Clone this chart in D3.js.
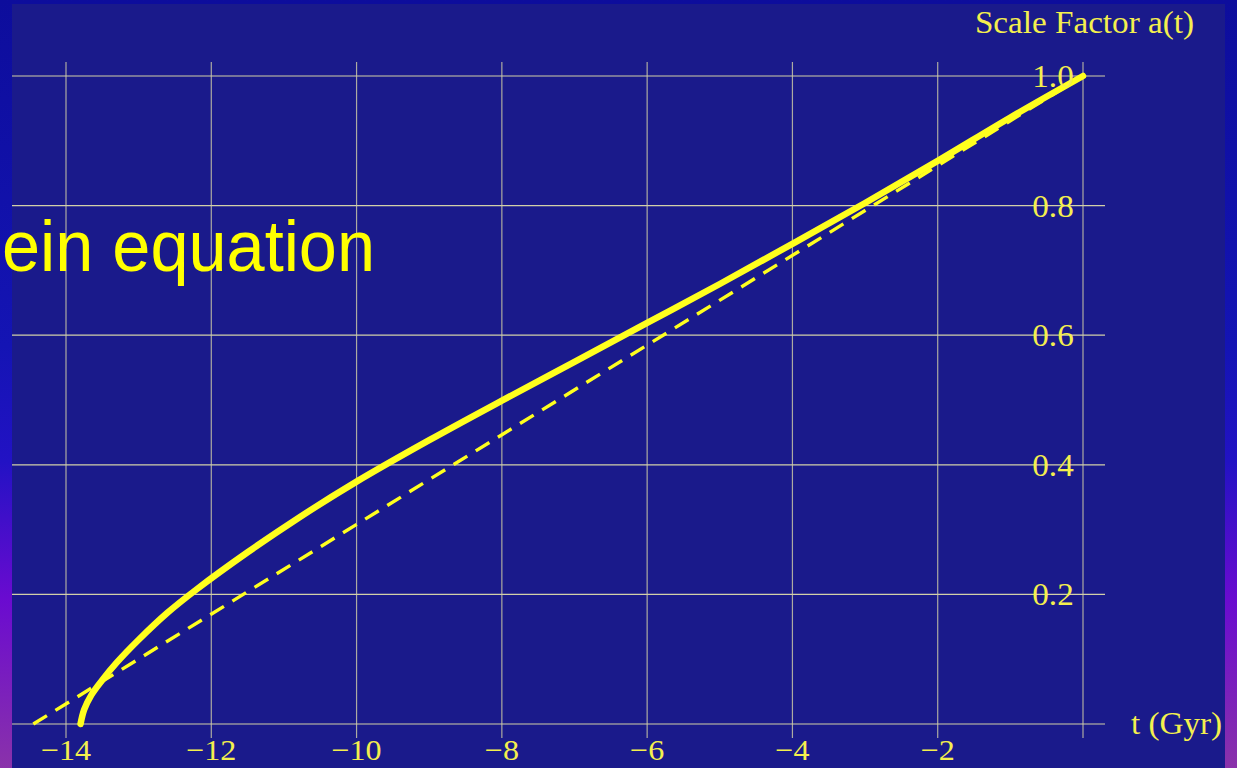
<!DOCTYPE html>
<html>
<head>
<meta charset="utf-8">
<script src="https://cdn.jsdelivr.net/npm/d3@7"></script>
<style>
  html, body { margin: 0; padding: 0; background: #0d0d9c; overflow: hidden; }
  svg { display: block; }
</style>
</head>
<body>
<svg id="chart" width="1237" height="768"></svg>
<script>
// time in Gyr (today = 0), scale factor a(t)
const timeGyr   = [-13.80, -13.75, -13.65, -13.50, -13.30, -13.00, -12.60, -12.20, -11.50, -10.80, -10.00, -9.00, -8.00, -7.00, -6.00, -5.00, -4.00, -3.00, -2.00, -1.00, 0.00];
const scaleFac  = [0.000, 0.022, 0.045, 0.068, 0.095, 0.130, 0.172, 0.208, 0.265, 0.318, 0.374, 0.438, 0.499, 0.559, 0.619, 0.679, 0.741, 0.804, 0.869, 0.936, 1.000];
// straight-line (constant expansion) comparison
const linearT   = [-14.45, 0.00];
const linearA   = [0.000, 1.000];
const xTicks    = [-14, -12, -10, -8, -6, -4, -2, 0];
const xLabels   = ['\u221214', '\u221212', '\u221210', '\u22128', '\u22126', '\u22124', '\u22122', ''];
const yTicks    = [0, 0.2, 0.4, 0.6, 0.8, 1.0];
const yLabels   = ['', '0.2', '0.4', '0.6', '0.8', '1.0'];
const yTitle    = 'Scale Factor a(t)';
const xTitle    = 't (Gyr)';
const sideText  = 'ein equation';

const draw = () => {
  let
    svg = d3.select('#chart'),
    W = 1237,
    H = 768,
    xScale = d3.scaleLinear().domain([-14, 0]).range([66, 1083]),
    yScale = d3.scaleLinear().domain([0, 1]).range([724, 76]),
    ink = '#f4ef4e',
    grid = '#d2d0a8',
    serif = '"Liberation Serif", "Times New Roman", serif',
    fontPx = 31,
    stretch = 1.07,
    line = d3.line().curve(d3.curveCatmullRom.alpha(0.5)).x(d => xScale(d[0])).y(d => yScale(d[1])),
    defs = svg.append('defs'),
    bg = defs.append('linearGradient').attr('id', 'slide-bg').attr('x1', 0).attr('y1', 0).attr('x2', 0).attr('y2', 1)
    ;

  // slide background behind the pasted plot
  [['0', '#0d0d9c'], ['0.45', '#1414b4'], ['0.6', '#2212c4'], ['0.78', '#6a0bd0'], ['1', '#8a32aa']]
    .forEach(s => bg.append('stop').attr('offset', s[0]).attr('stop-color', s[1]));
  svg.append('rect').attr('width', W).attr('height', H).attr('fill', 'url(#slide-bg)');
  svg.append('rect')
    .attr('x', 12).attr('y', 4)
    .attr('width', 1213).attr('height', H - 4)
    .attr('fill', '#1a1a8b')
  ;

  // grid
  svg.append('g').attr('class', 'grid-x')
    .selectAll('line').data(xTicks).join('line')
    .attr('x1', d => xScale(d)).attr('x2', d => xScale(d))
    .attr('y1', 62).attr('y2', 738)
    .attr('stroke', grid).attr('stroke-width', 1.2).attr('stroke-opacity', 0.8)
  ;
  svg.append('g').attr('class', 'grid-y')
    .selectAll('line').data(yTicks).join('line')
    .attr('x1', 12).attr('x2', 1105)
    .attr('y1', d => yScale(d)).attr('y2', d => yScale(d))
    .attr('stroke', grid).attr('stroke-width', 1.2)
  ;

  // curves
  let
    solid = timeGyr.map((t, i) => [t, scaleFac[i]]),
    dashed = linearT.map((t, i) => [t, linearA[i]])
    ;
  svg.append('path')
    .datum(dashed)
    .attr('d', d3.line().x(d => xScale(d[0])).y(d => yScale(d[1])))
    .attr('fill', 'none')
    .attr('stroke', '#ffff1e')
    .attr('stroke-width', 3.4)
    .attr('stroke-dasharray', '16,10')
  ;
  svg.append('path')
    .datum(solid)
    .attr('d', line)
    .attr('fill', 'none')
    .attr('stroke', '#ffff1e')
    .attr('stroke-width', 6.5)
    .attr('stroke-linecap', 'round')
  ;

  // tick labels
  svg.append('g').attr('class', 'x-labels')
    .selectAll('text').data(xTicks).join('text')
    .attr('transform', d => `translate(${xScale(d)},760) scale(${stretch},1)`)
    .attr('text-anchor', 'middle')
    .attr('font-family', serif).attr('font-size', 30)
    .attr('fill', ink)
    .text((d, i) => xLabels[i])
  ;
  svg.append('g').attr('class', 'y-labels')
    .selectAll('text').data(yTicks).join('text')
    .attr('transform', d => `translate(1053,${yScale(d) + 11}) scale(${stretch},1)`)
    .attr('text-anchor', 'middle')
    .attr('font-family', serif).attr('font-size', fontPx)
    .attr('fill', ink)
    .text((d, i) => yLabels[i])
  ;

  // axis titles
  svg.append('text')
    .attr('transform', `translate(1194,33) scale(${stretch},1)`)
    .attr('text-anchor', 'end')
    .attr('font-family', serif).attr('font-size', fontPx)
    .attr('fill', ink)
    .text(yTitle)
  ;
  svg.append('text')
    .attr('transform', `translate(1131,734) scale(${stretch},1)`)
    .attr('font-family', serif).attr('font-size', fontPx)
    .attr('fill', ink)
    .text(xTitle)
  ;

  // slide text overlapping the plot
  svg.append('text')
    .attr('x', 2).attr('y', 271)
    .attr('font-family', '"Liberation Sans", Arial, sans-serif')
    .attr('font-size', 72)
    .attr('textLength', 373)
    .attr('lengthAdjust', 'spacingAndGlyphs')
    .attr('fill', '#ffff00')
    .text(sideText)
  ;
};

draw();
</script>
</body>
</html>
